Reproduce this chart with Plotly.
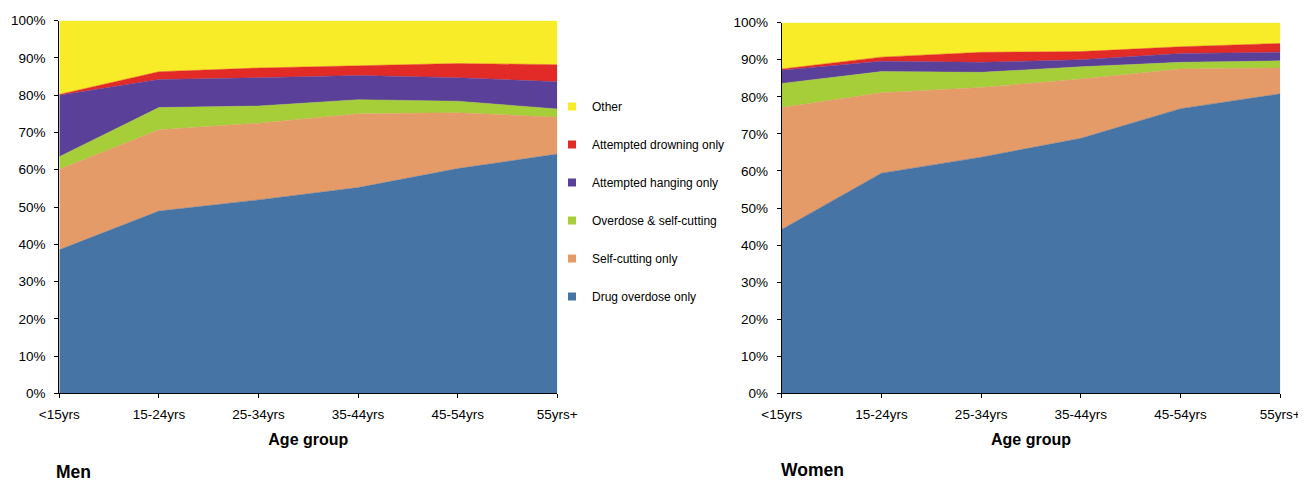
import plotly.graph_objects as go
from plotly.subplots import make_subplots

age_groups = ['<15yrs', '15-24yrs', '25-34yrs', '35-44yrs', '45-54yrs', '55yrs+']
methods = ['Drug overdose only', 'Self-cutting only', 'Overdose & self-cutting',
           'Attempted hanging only', 'Attempted drowning only', 'Other']
colors = ['#4674A5', '#E59B68', '#A6CE39', '#5B409A', '#E22B26', '#F7EC27']

# share of each method (%) per age group
men_overdose = [38.5, 48.9, 51.9, 55.2, 60.3, 64.2]
men_cutting = [21.6, 21.8, 20.6, 19.8, 15.0, 9.9]
men_od_cut = [3.4, 6.0, 4.6, 3.8, 3.1, 2.2]
men_hanging = [16.5, 7.5, 7.6, 6.5, 6.3, 7.3]
men_drowning = [0.2, 2.1, 2.6, 2.6, 3.8, 4.6]
men_other = [19.8, 13.7, 12.7, 12.1, 11.5, 11.8]

women_overdose = [44.2, 59.4, 63.7, 68.8, 76.8, 80.8]
women_cutting = [32.9, 21.7, 18.8, 16.0, 10.7, 7.0]
women_od_cut = [6.5, 5.7, 4.1, 3.3, 1.8, 1.9]
women_hanging = [3.6, 2.8, 2.7, 1.9, 2.4, 2.3]
women_drowning = [0.3, 1.1, 2.7, 2.2, 1.8, 2.4]
women_other = [12.5, 9.3, 8.0, 7.8, 6.5, 5.6]

men = [men_overdose, men_cutting, men_od_cut, men_hanging, men_drowning, men_other]
women = [women_overdose, women_cutting, women_od_cut, women_hanging, women_drowning, women_other]

W, H = 1306, 482
OFF = 8  # page body margin: the figure div starts 8px in
FONT = 'Liberation Sans, Arial, sans-serif'


def px_x(x):
    return (x - OFF) / W


def px_y(y):
    return 1 - (y - OFF) / H


fig = make_subplots(rows=1, cols=2)

for col, series, grp in [(1, men, 'men'), (2, women, 'women')]:
    for i, vals in enumerate(series):
        fig.add_trace(go.Scatter(
            x=age_groups, y=vals,
            name=methods[i],
            mode='lines',
            stackgroup=grp,
            groupnorm='percent' if i == 0 else None,
            fillcolor=colors[i],
            line=dict(width=0.5, color=colors[i]),
            legendgroup=methods[i],
            showlegend=False,
        ), row=1, col=col)

# legend entries with small square keys
for i, m in enumerate(methods):
    fig.add_trace(go.Scatter(
        x=[None], y=[None], name=m, mode='markers',
        marker=dict(symbol='square', size=8, color=colors[i]),
        legendgroup=m, legendrank=len(methods) - i,
    ), row=1, col=1)

# plot areas in reference pixels: (left, right, top, bottom)
boxes = [(59.3, 557.3, 20.7, 393.3), (781.7, 1280.3, 22.7, 393.3)]
for k, (l, r, t, b) in enumerate(boxes, start=1):
    xa = 'xaxis' if k == 1 else 'xaxis2'
    ya = 'yaxis' if k == 1 else 'yaxis2'
    fig.layout[xa].update(
        domain=[px_x(l), px_x(r)],
        range=[0, 5],
        automargin=False,
        showgrid=False, zeroline=False,
        showline=True, linecolor='black', linewidth=1,
        ticks='outside', ticklen=4, tickcolor='black',
        ticklabelstandoff=4,
        tickfont=dict(size=13.5, color='black'),
        title=dict(text='<b>Age group</b>', font=dict(size=16, color='black'), standoff=13),
    )
    fig.layout[ya].update(
        domain=[px_y(b), px_y(t)],
        range=[0, 100],
        automargin=False,
        dtick=10, ticksuffix='%',
        showgrid=False, zeroline=False,
        showline=True, linecolor='black', linewidth=1,
        ticks='outside', ticklen=4, tickcolor='black',
        ticklabelstandoff=6,
        tickfont=dict(size=13.5, color='black'),
    )

fig.add_annotation(x=px_x(54), y=px_y(472), xref='paper', yref='paper',
                   text='<b>Men</b>', showarrow=False, xanchor='left', yanchor='middle',
                   font=dict(size=17.5, color='black'))
fig.add_annotation(x=px_x(779), y=px_y(470), xref='paper', yref='paper',
                   text='<b>Women</b>', showarrow=False, xanchor='left', yanchor='middle',
                   font=dict(size=17.5, color='black'))

fig.update_layout(
    width=W, height=H,
    margin=dict(l=0, r=0, t=0, b=0, autoexpand=False),
    paper_bgcolor='white', plot_bgcolor='white',
    font=dict(family=FONT, color='black'),
    showlegend=True,
    legend=dict(
        x=px_x(552), y=px_y(92), xanchor='left', yanchor='top',
        traceorder='grouped', tracegroupgap=19,
        font=dict(size=12, color='black'),
        itemwidth=30, bgcolor='rgba(0,0,0,0)',
    ),
)

fig.write_html("out.html")
